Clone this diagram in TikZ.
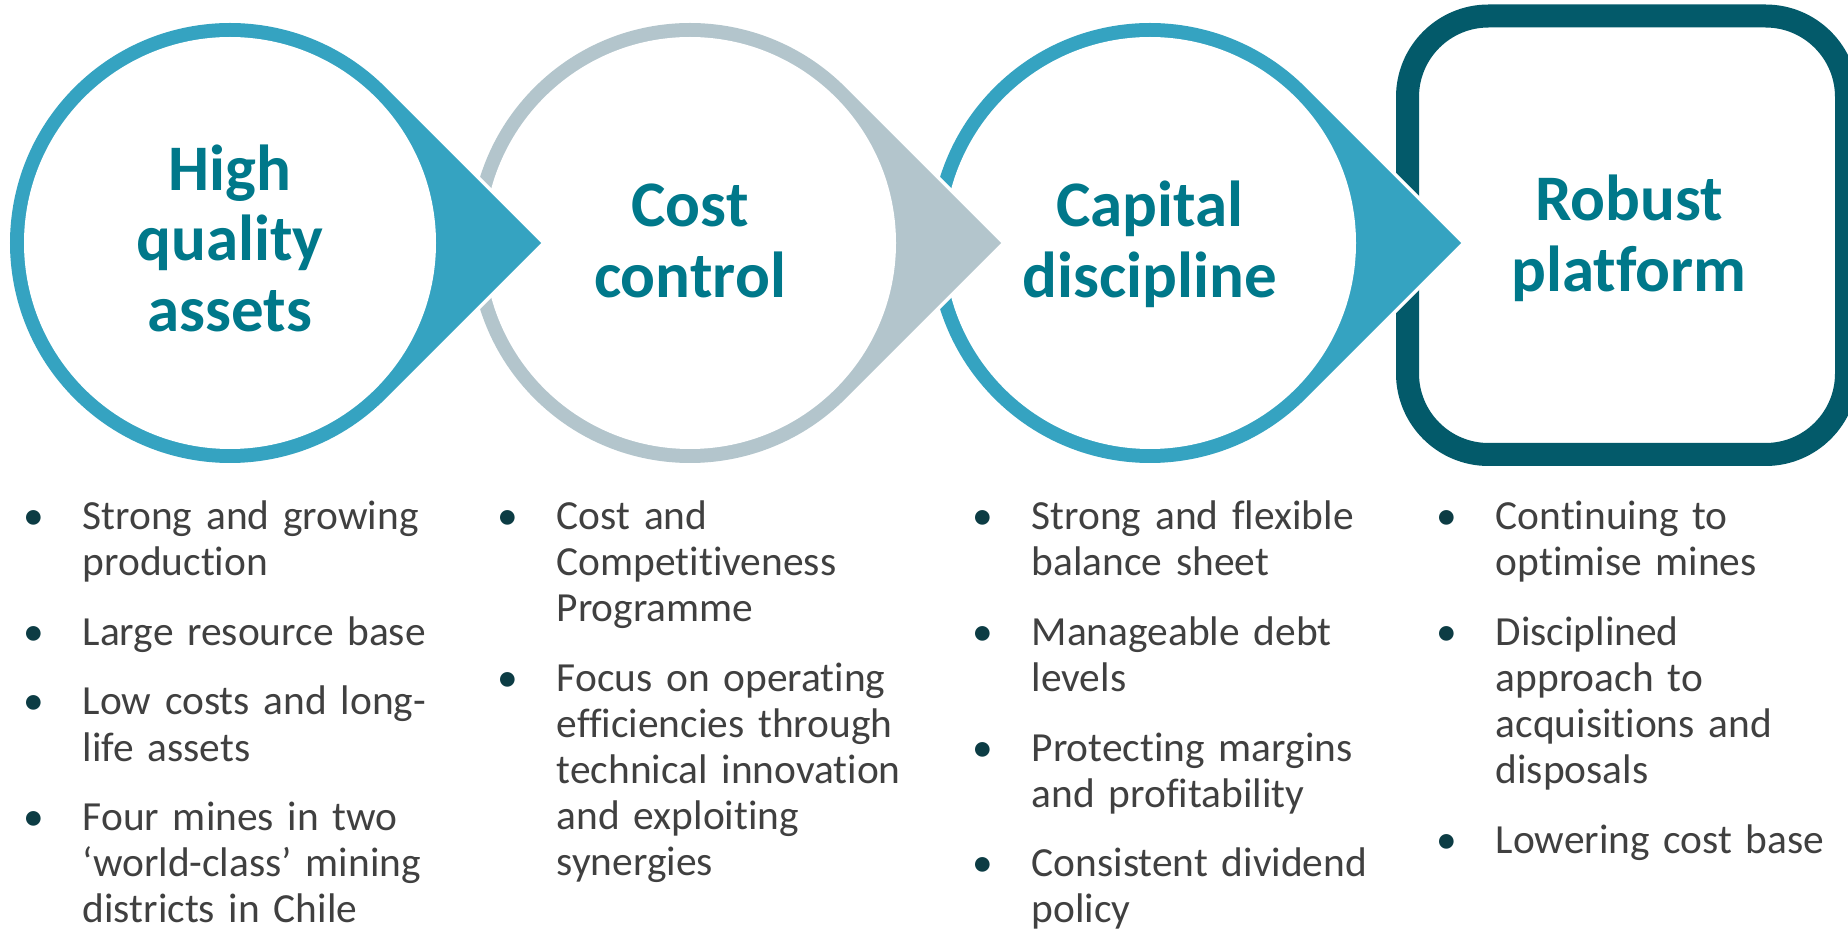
\documentclass[tikz,border=0pt]{standalone}
\usepackage{fontspec}
\setmainfont{Carlito}[Ligatures=NoCommon]

\definecolor{ringblue}{RGB}{53,163,193}
\definecolor{ringgray}{RGB}{179,197,204}
\definecolor{boxteal}{RGB}{3,90,106}
\definecolor{titleteal}{RGB}{0,120,138}
\definecolor{bodygray}{RGB}{64,64,64}
\definecolor{dotteal}{RGB}{12,60,68}

\newcommand{\bul}{\par\noindent\strut\llap{\makebox[24.5pt][l]{\makebox[0pt]{\color{dotteal}\textbullet}}}}

\tikzset{every picture/.style={line width=0.75pt}}
\tikzset{
  titletext/.style={font=\fontsize{32.5}{35.3}\selectfont\bfseries, text=titleteal, align=center, inner sep=0pt},
  bulletlist/.style={font=\fontsize{20.7}{23.05}\selectfont, text=bodygray, text width=210pt, align=left, inner sep=0pt, anchor=north west, execute at begin node=\setlength{\parskip}{11.8pt}}
}

\begin{document}
\begin{tikzpicture}[x=0.5pt,y=0.5pt,yscale=-1,xscale=1]
%set diagram left start at 0, and has height of 930
\fill[white] (0,0) rectangle (1848,930);
\useasboundingbox (0,0) rectangle (1848,930);

%Rounded Rect [id:robust]
\draw [color=boxteal, line width=11.5pt, rounded corners=40.5pt] (1407.5,16) rectangle (1846.5,454.5) ;

%Shape: Teardrop [id:capital]
\path [draw=white, line width=3.5pt, fill=ringblue] (1461.13,243) -- (1305.56,398.56) arc [start angle=45, end angle=315, radius=220] -- cycle ;
\fill [ringblue] (1461.13,243) -- (1305.56,398.56) arc [start angle=45, end angle=315, radius=220] -- cycle ;
\fill [white] (1150,243) circle [radius=206] ;

%Shape: Teardrop [id:cost]
\path [draw=white, line width=3.5pt, fill=ringgray] (1001.13,243) -- (845.56,398.56) arc [start angle=45, end angle=315, radius=220] -- cycle ;
\fill [ringgray] (1001.13,243) -- (845.56,398.56) arc [start angle=45, end angle=315, radius=220] -- cycle ;
\fill [white] (690,243) circle [radius=206] ;

%Shape: Teardrop [id:high]
\path [draw=white, line width=3.5pt, fill=ringblue] (541.13,243) -- (385.56,398.56) arc [start angle=45, end angle=315, radius=220] -- cycle ;
\fill [ringblue] (541.13,243) -- (385.56,398.56) arc [start angle=45, end angle=315, radius=220] -- cycle ;
\fill [white] (230,243) circle [radius=206] ;

% Text Node
\node [titletext] (high) at (230,246.5) {\strut High\\\strut quality\\\strut assets};
% Text Node
\node [titletext] (cost) at (690,248) {\strut Cost\\\strut control};
% Text Node
\node [titletext] (capital) at (1150,248) {\strut Capital\\\strut discipline};
% Text Node
\node [titletext] (robust) at (1629,242) {\strut Robust\\\strut platform};

% Text Node
\node [bulletlist] (highlist) at (82,459) {\bul Strong and growing\newline production
\bul Large resource base
\bul Low costs and long-\newline life assets
\bul Four mines in two\newline ‘world-class’ mining\newline districts in Chile};
% Text Node
\node [bulletlist] (costlist) at (556,459) {\bul Cost and\newline Competitiveness\newline Programme
\bul Focus on operating\newline efficiencies through\newline technical innovation\newline and exploiting\newline synergies};
% Text Node
\node [bulletlist] (capitallist) at (1031,459) {\bul Strong and flexible\newline balance sheet
\bul Manageable debt\newline levels
\bul Protecting margins\newline and profitability
\bul Consistent dividend\newline policy};
% Text Node
\node [bulletlist] (robustlist) at (1495,459) {\bul Continuing to\newline optimise mines
\bul Disciplined\newline approach to\newline acquisitions and\newline disposals
\bul Lowering cost base};

\end{tikzpicture}
\end{document}
